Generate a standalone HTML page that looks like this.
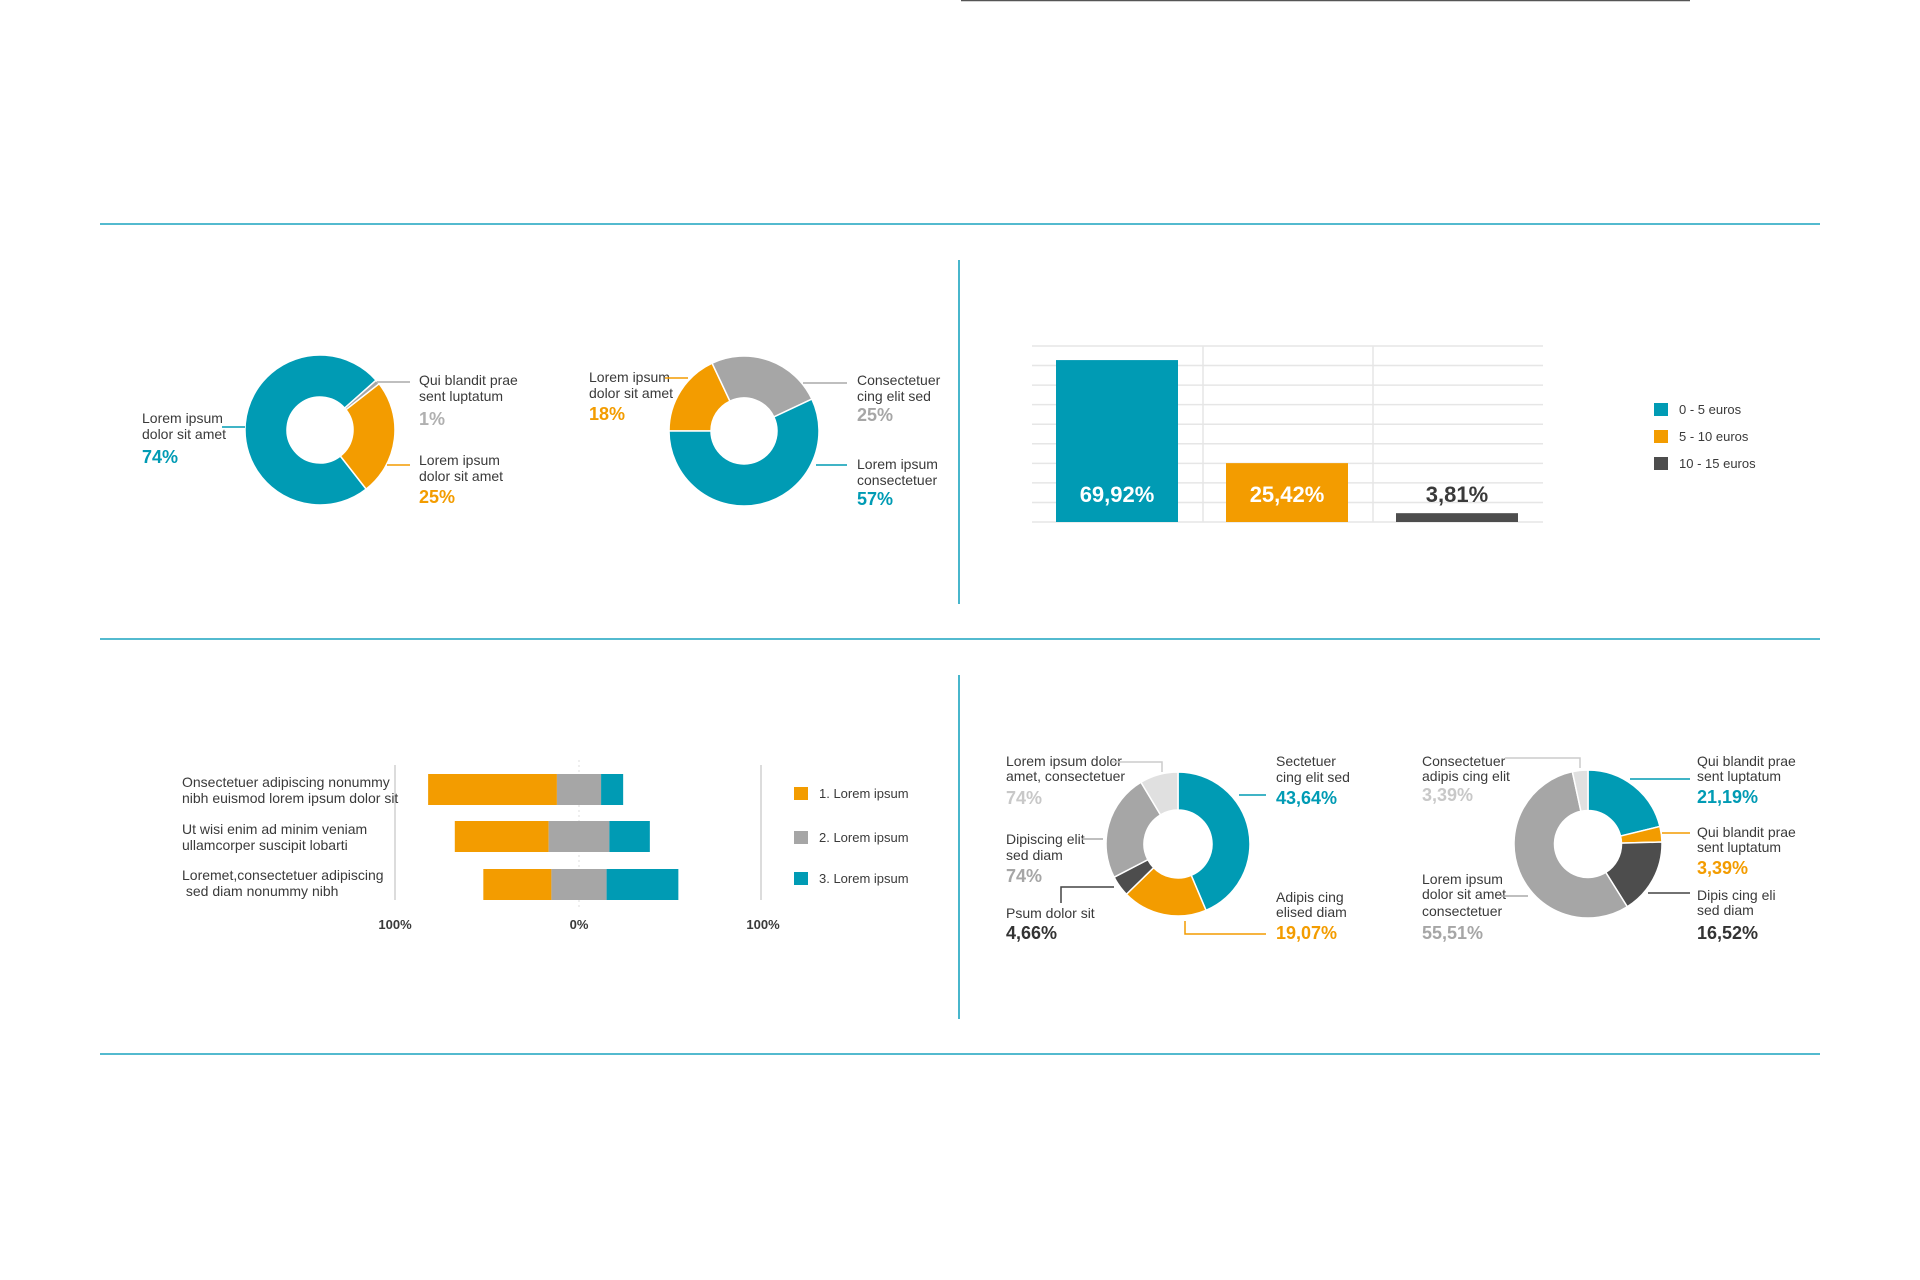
<!DOCTYPE html>
<html><head><meta charset="utf-8"><style>
html,body{margin:0;padding:0;background:#fff;}
svg{display:block;}
text{font-family:"Liberation Sans Narrow","Liberation Sans",sans-serif;font-stretch:condensed;}
.lb{font-size:14px;fill:#3a3a3a;}
.pc{font-size:18px;font-weight:bold;}
</style></head><body>
<svg id="root" width="1920" height="1280" viewBox="0 0 1920 1280" xmlns="http://www.w3.org/2000/svg">
<line x1="961" y1="0.5" x2="1690" y2="0.5" stroke="#555" stroke-width="1.5"/>
<g stroke="#1aa3bf" stroke-width="1.6">
<line x1="100" y1="224" x2="1820" y2="224"/><line x1="100" y1="639" x2="1820" y2="639"/><line x1="100" y1="1054" x2="1820" y2="1054"/>
<line x1="959" y1="260" x2="959" y2="604"/><line x1="959" y1="675" x2="959" y2="1019"/>
</g>
<g id="donuts"></g>
<g>
<text class="lb" x="142" y="423">Lorem ipsum</text><text class="lb" x="142" y="439">dolor sit amet</text>
<text class="pc" x="142" y="463" fill="#009bb4">74%</text>
<line x1="222" y1="427" x2="245" y2="427" stroke="#009bb4" stroke-width="1.5"/>
<text class="lb" x="419" y="385">Qui blandit prae</text><text class="lb" x="419" y="401">sent luptatum</text>
<text class="pc" x="419" y="425" fill="#b0b0b0">1%</text>
<line x1="377" y1="382" x2="410" y2="382" stroke="#aaa" stroke-width="1.5"/>
<text class="lb" x="419" y="465">Lorem ipsum</text><text class="lb" x="419" y="481">dolor sit amet</text>
<text class="pc" x="419" y="503" fill="#f39c00">25%</text>
<line x1="387" y1="465" x2="410" y2="465" stroke="#f39c00" stroke-width="1.5"/>
</g>
<g>
<text class="lb" x="589" y="382">Lorem ipsum</text><text class="lb" x="589" y="398">dolor sit amet</text>
<text class="pc" x="589" y="420" fill="#f39c00">18%</text>
<line x1="665" y1="378" x2="688" y2="378" stroke="#f39c00" stroke-width="1.5"/>
<text class="lb" x="857" y="385">Consectetuer</text><text class="lb" x="857" y="401">cing elit sed</text>
<text class="pc" x="857" y="421" fill="#a6a6a6">25%</text>
<line x1="803" y1="383" x2="847" y2="383" stroke="#aaa" stroke-width="1.5"/>
<text class="lb" x="857" y="469">Lorem ipsum</text><text class="lb" x="857" y="485">consectetuer</text>
<text class="pc" x="857" y="505" fill="#009bb4">57%</text>
<line x1="816" y1="465" x2="847" y2="465" stroke="#009bb4" stroke-width="1.5"/>
</g>
<g id="bars"></g>
<g>
<rect x="1654" y="403" width="14" height="13" fill="#009bb4"/><text class="lb" x="1679" y="414" style="font-size:13px" fill="#009bb4">0 - 5 euros</text>
<rect x="1654" y="430" width="14" height="13" fill="#f39c00"/><text class="lb" x="1679" y="441" style="font-size:13px" fill="#f39c00">5 - 10 euros</text>
<rect x="1654" y="457" width="14" height="13" fill="#4d4d4d"/><text class="lb" x="1679" y="468" style="font-size:13px" fill="#3a3a3a">10 - 15 euros</text>
</g>
<g id="div"></g>
<g>
<text class="lb" x="182" y="787">Onsectetuer adipiscing nonummy</text><text class="lb" x="182" y="803">nibh euismod lorem ipsum dolor sit</text>
<text class="lb" x="182" y="834">Ut wisi enim ad minim veniam</text><text class="lb" x="182" y="850">ullamcorper suscipit lobarti</text>
<text class="lb" x="182" y="880">Loremet,consectetuer adipiscing</text><text class="lb" x="182" y="896">&#160;sed diam nonummy nibh</text>
<rect x="794" y="787" width="14" height="13" fill="#f39c00"/><text class="lb" x="819" y="798" style="font-size:13px" fill="#f39c00">1. Lorem ipsum</text>
<rect x="794" y="831" width="14" height="13" fill="#a6a6a6"/><text class="lb" x="819" y="842" style="font-size:13px" fill="#a6a6a6">2. Lorem ipsum</text>
<rect x="794" y="872" width="14" height="13" fill="#009bb4"/><text class="lb" x="819" y="883" style="font-size:13px" fill="#009bb4">3. Lorem ipsum</text>
</g>
<g>
<text class="lb" x="1006" y="766">Lorem ipsum dolor</text><text class="lb" x="1006" y="781">amet, consectetuer</text>
<text class="pc" x="1006" y="804" fill="#c8c8c8">74%</text>
<polyline points="1112,762 1162,762 1162,772" fill="none" stroke="#ccc" stroke-width="1.5"/>
<text class="lb" x="1006" y="844">Dipiscing elit</text><text class="lb" x="1006" y="860">sed diam</text>
<text class="pc" x="1006" y="882" fill="#a6a6a6">74%</text>
<line x1="1082" y1="839" x2="1103" y2="839" stroke="#aaa" stroke-width="1.5"/>
<text class="lb" x="1006" y="918">Psum dolor sit</text>
<text class="pc" x="1006" y="939" fill="#333">4,66%</text>
<polyline points="1114,887 1061,887 1061,903" fill="none" stroke="#444" stroke-width="1.5"/>
<text class="lb" x="1276" y="766">Sectetuer</text><text class="lb" x="1276" y="782">cing elit sed</text>
<text class="pc" x="1276" y="804" fill="#009bb4">43,64%</text>
<line x1="1239" y1="795" x2="1266" y2="795" stroke="#009bb4" stroke-width="1.5"/>
<text class="lb" x="1276" y="902">Adipis cing</text><text class="lb" x="1276" y="917">elised diam</text>
<text class="pc" x="1276" y="939" fill="#f39c00">19,07%</text>
<polyline points="1185,921 1185,934 1266,934" fill="none" stroke="#f39c00" stroke-width="1.5"/>
</g>
<g>
<text class="lb" x="1422" y="766">Consectetuer</text><text class="lb" x="1422" y="781">adipis cing elit</text>
<text class="pc" x="1422" y="801" fill="#c8c8c8">3,39%</text>
<polyline points="1505,758 1580,758 1580,768" fill="none" stroke="#ccc" stroke-width="1.5"/>
<text class="lb" x="1422" y="884">Lorem ipsum</text><text class="lb" x="1422" y="899">dolor sit amet</text><text class="lb" x="1422" y="916">consectetuer</text>
<text class="pc" x="1422" y="939" fill="#a6a6a6">55,51%</text>
<line x1="1501" y1="896" x2="1528" y2="896" stroke="#aaa" stroke-width="1.5"/>
<text class="lb" x="1697" y="766">Qui blandit prae</text><text class="lb" x="1697" y="781">sent luptatum</text>
<text class="pc" x="1697" y="803" fill="#009bb4">21,19%</text>
<line x1="1630" y1="779" x2="1690" y2="779" stroke="#009bb4" stroke-width="1.5"/>
<text class="lb" x="1697" y="837">Qui blandit prae</text><text class="lb" x="1697" y="852">sent luptatum</text>
<text class="pc" x="1697" y="874" fill="#f39c00">3,39%</text>
<line x1="1662" y1="833" x2="1690" y2="833" stroke="#f39c00" stroke-width="1.5"/>
<text class="lb" x="1697" y="900">Dipis cing eli</text><text class="lb" x="1697" y="915">sed diam</text>
<text class="pc" x="1697" y="939" fill="#333">16,52%</text>
<line x1="1648" y1="893" x2="1690" y2="893" stroke="#444" stroke-width="1.5"/>
</g>
</svg>
<script>
const NS='http://www.w3.org/2000/svg';
// donut data
const donut1Values=[74,1,25];
const donut2Values=[18,25,57];
const donut3Values=[43.64,19.07,4.66,24.03,8.6];
const donut4Values=[21.19,3.39,16.52,55.51,3.39];
// bar chart data
const barCategories=['0 - 5 euros','5 - 10 euros','10 - 15 euros'];
const barValues=[69.92,25.42,3.81];
const barLabels=['69,92%','25,42%','3,81%'];
// diverging chart data
const divRows=['row-1','row-2','row-3'];
const divOrange=[70,51,37];
const divGray=[24,33,30];
const divTeal=[12,22,39];
const divTicks=['100%','0%','100%'];

const C={teal:'#009bb4',orange:'#f39c00',gray:'#a6a6a6',dark:'#4d4d4d',light:'#e0e0e0'};
function mk(tag,attrs,parent){const e=document.createElementNS(NS,tag);for(const k in attrs)e.setAttribute(k,attrs[k]);parent.appendChild(e);return e;}
function pt(cx,cy,r,a){const t=a*Math.PI/180;return [cx+r*Math.sin(t),cy-r*Math.cos(t)];}
function donut(name,cx,cy,ro,ri,start,vals,cols){
  const g=document.getElementById('donuts');
  const tot=vals.reduce((a,b)=>a+b,0);let a=start;
  vals.forEach((v,i)=>{
    const sw=v/tot*360,b=a+sw,lg=sw>180?1:0;
    const p1=pt(cx,cy,ro,a),p2=pt(cx,cy,ro,b),p3=pt(cx,cy,ri,b),p4=pt(cx,cy,ri,a);
    const p=mk('path',{d:`M${p1[0]},${p1[1]}A${ro},${ro} 0 ${lg} 1 ${p2[0]},${p2[1]}L${p3[0]},${p3[1]}A${ri},${ri} 0 ${lg} 0 ${p4[0]},${p4[1]}Z`,fill:cols[i],stroke:'#fff','stroke-width':1.5},g);
    
    
    a=b;
  });
}
donut('donut-1',320,430,75,33,142,donut1Values,[C.teal,C.gray,C.orange]);
donut('donut-2',744,431,75,33,270,donut2Values,[C.orange,C.gray,C.teal]);
donut('donut-3',1178,844,72,34,0,donut3Values,[C.teal,C.orange,C.dark,C.gray,C.light]);
donut('donut-4',1588,844,74,33.5,0,donut4Values,[C.teal,C.orange,C.dark,C.gray,C.light]);

// bar chart
(function(){
  const g=document.getElementById('bars');
  const x0=1032,x1=1543,yb=522,yt=346,yMax=76;
  const y=v=>yb-v/yMax*(yb-yt);
  for(let i=0;i<=9;i++){const yy=yt+i*(yb-yt)/9;const l=mk('line',{x1:x0,x2:x1,y1:yy,y2:yy,stroke:'#e6e6e6','stroke-width':1.5},g);
    
    }
  [1203,1373].forEach(xx=>{const l=mk('line',{x1:xx,x2:xx,y1:yt,y2:yb,stroke:'#e6e6e6','stroke-width':1.5},g);
    
    });
  const bw=122,step=170,start=1056,cols=[C.teal,C.orange,C.dark];
  barValues.forEach((v,i)=>{
    const bx=start+i*step;
    const r=mk('rect',{x:bx,y:y(v),width:bw,height:yb-y(v),fill:cols[i]},g);
    
    
    const inside=(yb-y(v))>40;
    const t=mk('text',{x:bx+bw/2,y:502,'text-anchor':'middle',class:'pc',style:'font-size:22px',fill:inside?'#fff':'#3a3a3a'},g);
    t.textContent=barLabels[i];
    
    
  });
})();

// diverging chart
(function(){
  const g=document.getElementById('div');
  const cx=579,unit=184/100;
  const x=v=>cx+v*unit;
  [395,761].forEach(xx=>{const l=mk('line',{x1:xx,x2:xx,y1:765,y2:900,stroke:'#d0d0d0','stroke-width':1.5},g);
    
    });
  const z=mk('line',{x1:cx,x2:cx,y1:760,y2:908,stroke:'#ddd','stroke-width':1,'stroke-dasharray':'2,3'},g);
  
  
  const rowY=[774,821,869],h=31;
  divRows.forEach((n,i)=>{
    const gs=-divGray[i]/2;
    const segs=[[gs-divOrange[i],divOrange[i],C.orange],[gs,divGray[i],C.gray],[gs+divGray[i],divTeal[i],C.teal]];
    segs.forEach((s,j)=>{
      const r=mk('rect',{x:x(s[0]),y:rowY[i],width:s[1]*unit,height:h,fill:s[2]},g);
      
      
    });
  });
  const tickV=[-100,0,100];
  divTicks.forEach((t,i)=>{
    const e=mk('text',{x:x(tickV[i]),y:929,'text-anchor':'middle',class:'lb',style:'font-size:13px;font-weight:bold',fill:'#3a3a3a'},g);
    e.textContent=t;
    
    
  });
})();
</script>
</body></html>
